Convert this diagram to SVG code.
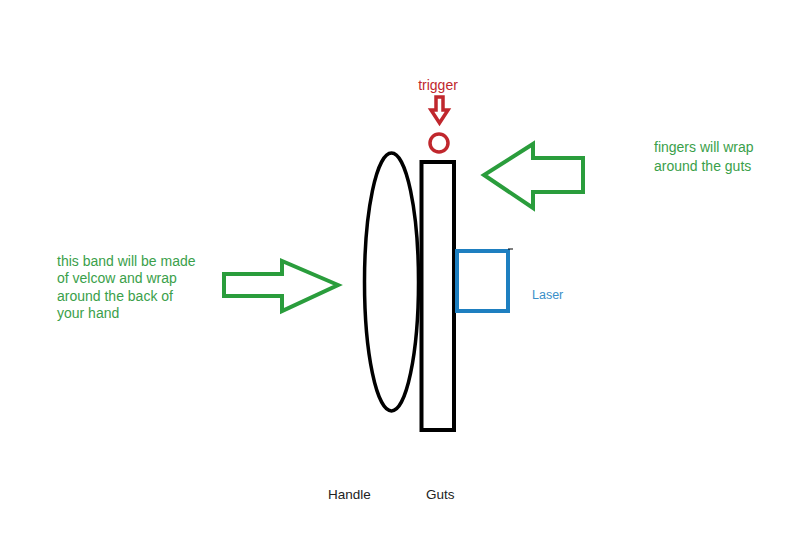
<svg xmlns="http://www.w3.org/2000/svg" width="799" height="537" viewBox="0 0 799 537">
<style>
.g{fill:none;stroke:#2a9d3c;stroke-width:4;stroke-linejoin:miter}
.gt{font-family:"Liberation Sans",Arial,sans-serif;font-size:14px;fill:#3aa04a}
.k{font-family:"Liberation Sans",Arial,sans-serif;font-size:13.5px;fill:#222}
</style>
<rect width="799" height="537" fill="#fff"/>
<g id="connectors">
<polygon id="arrow-trigger" points="436,97 443,97 443,110 448,110 439.5,123 431,110 436,110" fill="#fff" stroke="#c0272d" stroke-width="3.5"/>
<polygon id="arrow-fingers" class="g" points="583,158 533,158 533,144 484,175 533,208 533,192 583,192"/>
<polygon id="arrow-band" class="g" points="224,274 282,274 282,261 338,285 282,311 282,296 224,296"/>
</g>
<g id="handle"><ellipse cx="391.5" cy="282" rx="27" ry="129" fill="none" stroke="#000" stroke-width="3.5"/></g>
<g id="guts"><rect x="421.5" y="162" width="32.5" height="268" fill="#fff" stroke="#000" stroke-width="4"/></g>
<g id="trigger"><circle cx="439" cy="143" r="9" fill="none" stroke="#c0272d" stroke-width="3.5"/>
<text x="438" y="90" text-anchor="middle" font-family="Liberation Sans,Arial,sans-serif" font-size="14" fill="#c0272d">trigger</text></g>
<g id="laser"><rect x="457" y="251" width="51" height="60" fill="none" stroke="#1e7fc0" stroke-width="4"/>
<line x1="508" y1="249" x2="513" y2="249" stroke="#000" stroke-width="1"/>
<text x="532" y="299" font-family="Liberation Sans,Arial,sans-serif" font-size="12.5" fill="#3a8fc8">Laser</text></g>
<g id="band-note"><text class="gt" x="57" y="266">this band will be made</text>
<text class="gt" x="57" y="283">of velcow and wrap</text>
<text class="gt" x="57" y="301">around the back of</text>
<text class="gt" x="57" y="318">your hand</text></g>
<g id="fingers-note"><text class="gt" x="654" y="152">fingers will wrap</text>
<text class="gt" x="654" y="171">around the guts</text></g>
<text class="k" x="328" y="499">Handle</text>
<text class="k" x="426" y="499">Guts</text>
</svg>
